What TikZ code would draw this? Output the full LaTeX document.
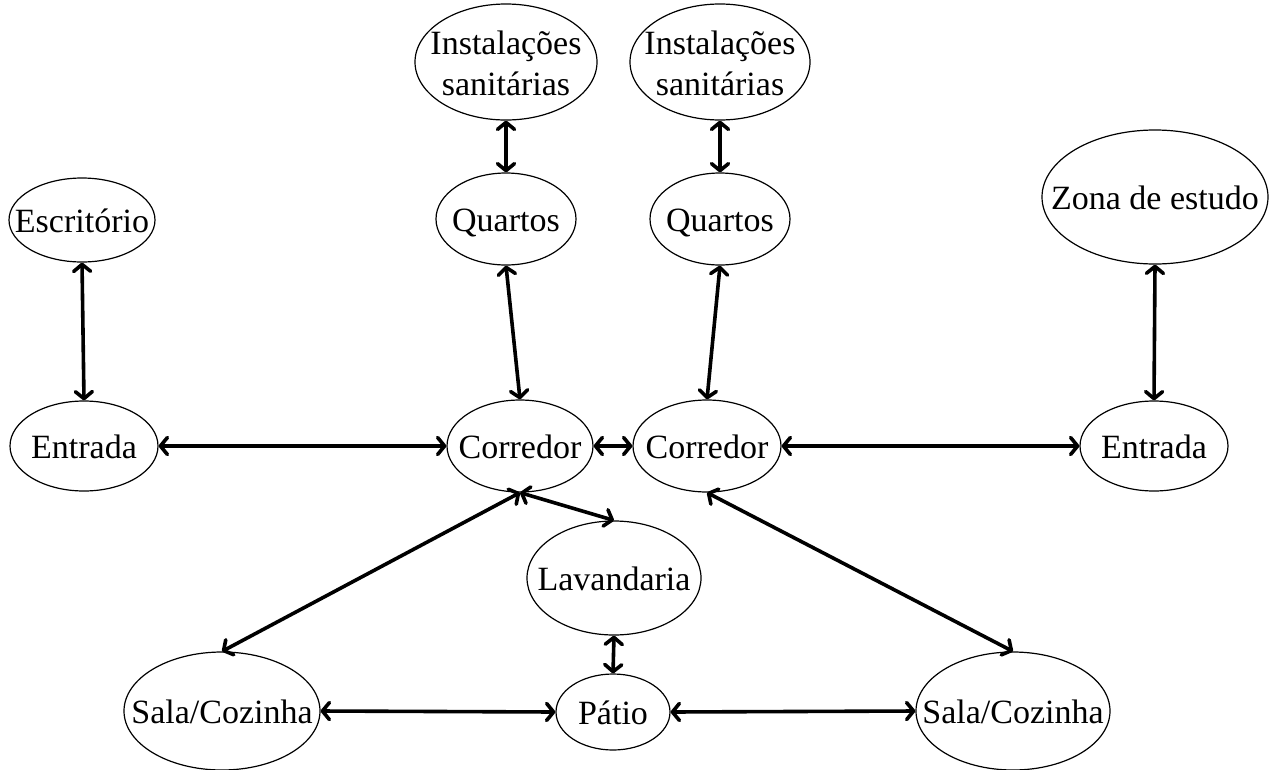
\documentclass[tikz,border=0pt]{standalone}
\usepackage{fontspec}
\setmainfont{Liberation Serif}
\usetikzlibrary{shapes.geometric,arrows.meta}
\newcommand{\rmtxt}[1]{\makebox[0pt]{\raisebox{-5pt}[\height][\depth]{\begin{tabular}{@{}c@{}}#1\end{tabular}}}}
\tikzset{
  room/.style={ellipse, draw, line width=1.2pt, inner sep=0pt,
    font=\fontsize{34}{38}\selectfont},
  link/.style={line width=3.6pt, {Straight Barb[length=7pt,width=17pt,round]}-{Straight Barb[length=7pt,width=17pt,round]}}
}
\begin{document}
\begin{tikzpicture}[x=1pt,y=-1pt]
\useasboundingbox (0,0) rectangle (1272,769);
\node[room, minimum width=146, minimum height=84] (esc) at (82,220) {\rmtxt{Escritório}};
\node[room, minimum width=182, minimum height=116] (ins1) at (506,62) {\rmtxt{Instalações\\[3pt]sanitárias}};
\node[room, minimum width=180, minimum height=116] (ins2) at (720,62) {\rmtxt{Instalações\\[3pt]sanitárias}};
\node[room, minimum width=140, minimum height=92] (q1) at (506,219) {\rmtxt{Quartos}};
\node[room, minimum width=140, minimum height=92] (q2) at (720,219) {\rmtxt{Quartos}};
\node[room, minimum width=226, minimum height=134] (zona) at (1155,197) {\rmtxt{Zona de estudo}};
\node[room, minimum width=148, minimum height=90] (ent1) at (84,446) {\rmtxt{Entrada}};
\node[room, minimum width=146, minimum height=92] (cor1) at (520,446) {\rmtxt{Corredor}};
\node[room, minimum width=148, minimum height=92] (cor2) at (707,446) {\rmtxt{Corredor}};
\node[room, minimum width=148, minimum height=90] (ent2) at (1154,446) {\rmtxt{Entrada}};
\node[room, minimum width=174, minimum height=114] (lav) at (614,578) {\rmtxt{Lavandaria}};
\node[room, minimum width=196, minimum height=118] (sala1) at (222,711) {\rmtxt{Sala/Cozinha}};
\node[room, minimum width=114, minimum height=76] (pat) at (613,712) {\rmtxt{Pátio}};
\node[room, minimum width=194, minimum height=118] (sala2) at (1013,711) {\rmtxt{Sala/Cozinha}};

\draw[link] (esc.south) -- (ent1.north);
\draw[link] (ins1.south) -- (q1.north);
\draw[link] (ins2.south) -- (q2.north);
\draw[link] (q1.south) -- (cor1.north);
\draw[link] (q2.south) -- (cor2.north);
\draw[link] (zona.south) -- (ent2.north);
\draw[link] (ent1.east) -- (cor1.west);
\draw[link] (cor1.east) -- (cor2.west);
\draw[link] (cor2.east) -- (ent2.west);
\draw[link] (cor1.south) -- (sala1.north);
\draw[link] (cor1.south) -- (lav.north);
\draw[link] (cor2.south) -- (sala2.north);
\draw[link] (lav.south) -- (pat.north);
\draw[link] (sala1.east) -- (pat.west);
\draw[link] (pat.east) -- (sala2.west);
\end{tikzpicture}
\end{document}
